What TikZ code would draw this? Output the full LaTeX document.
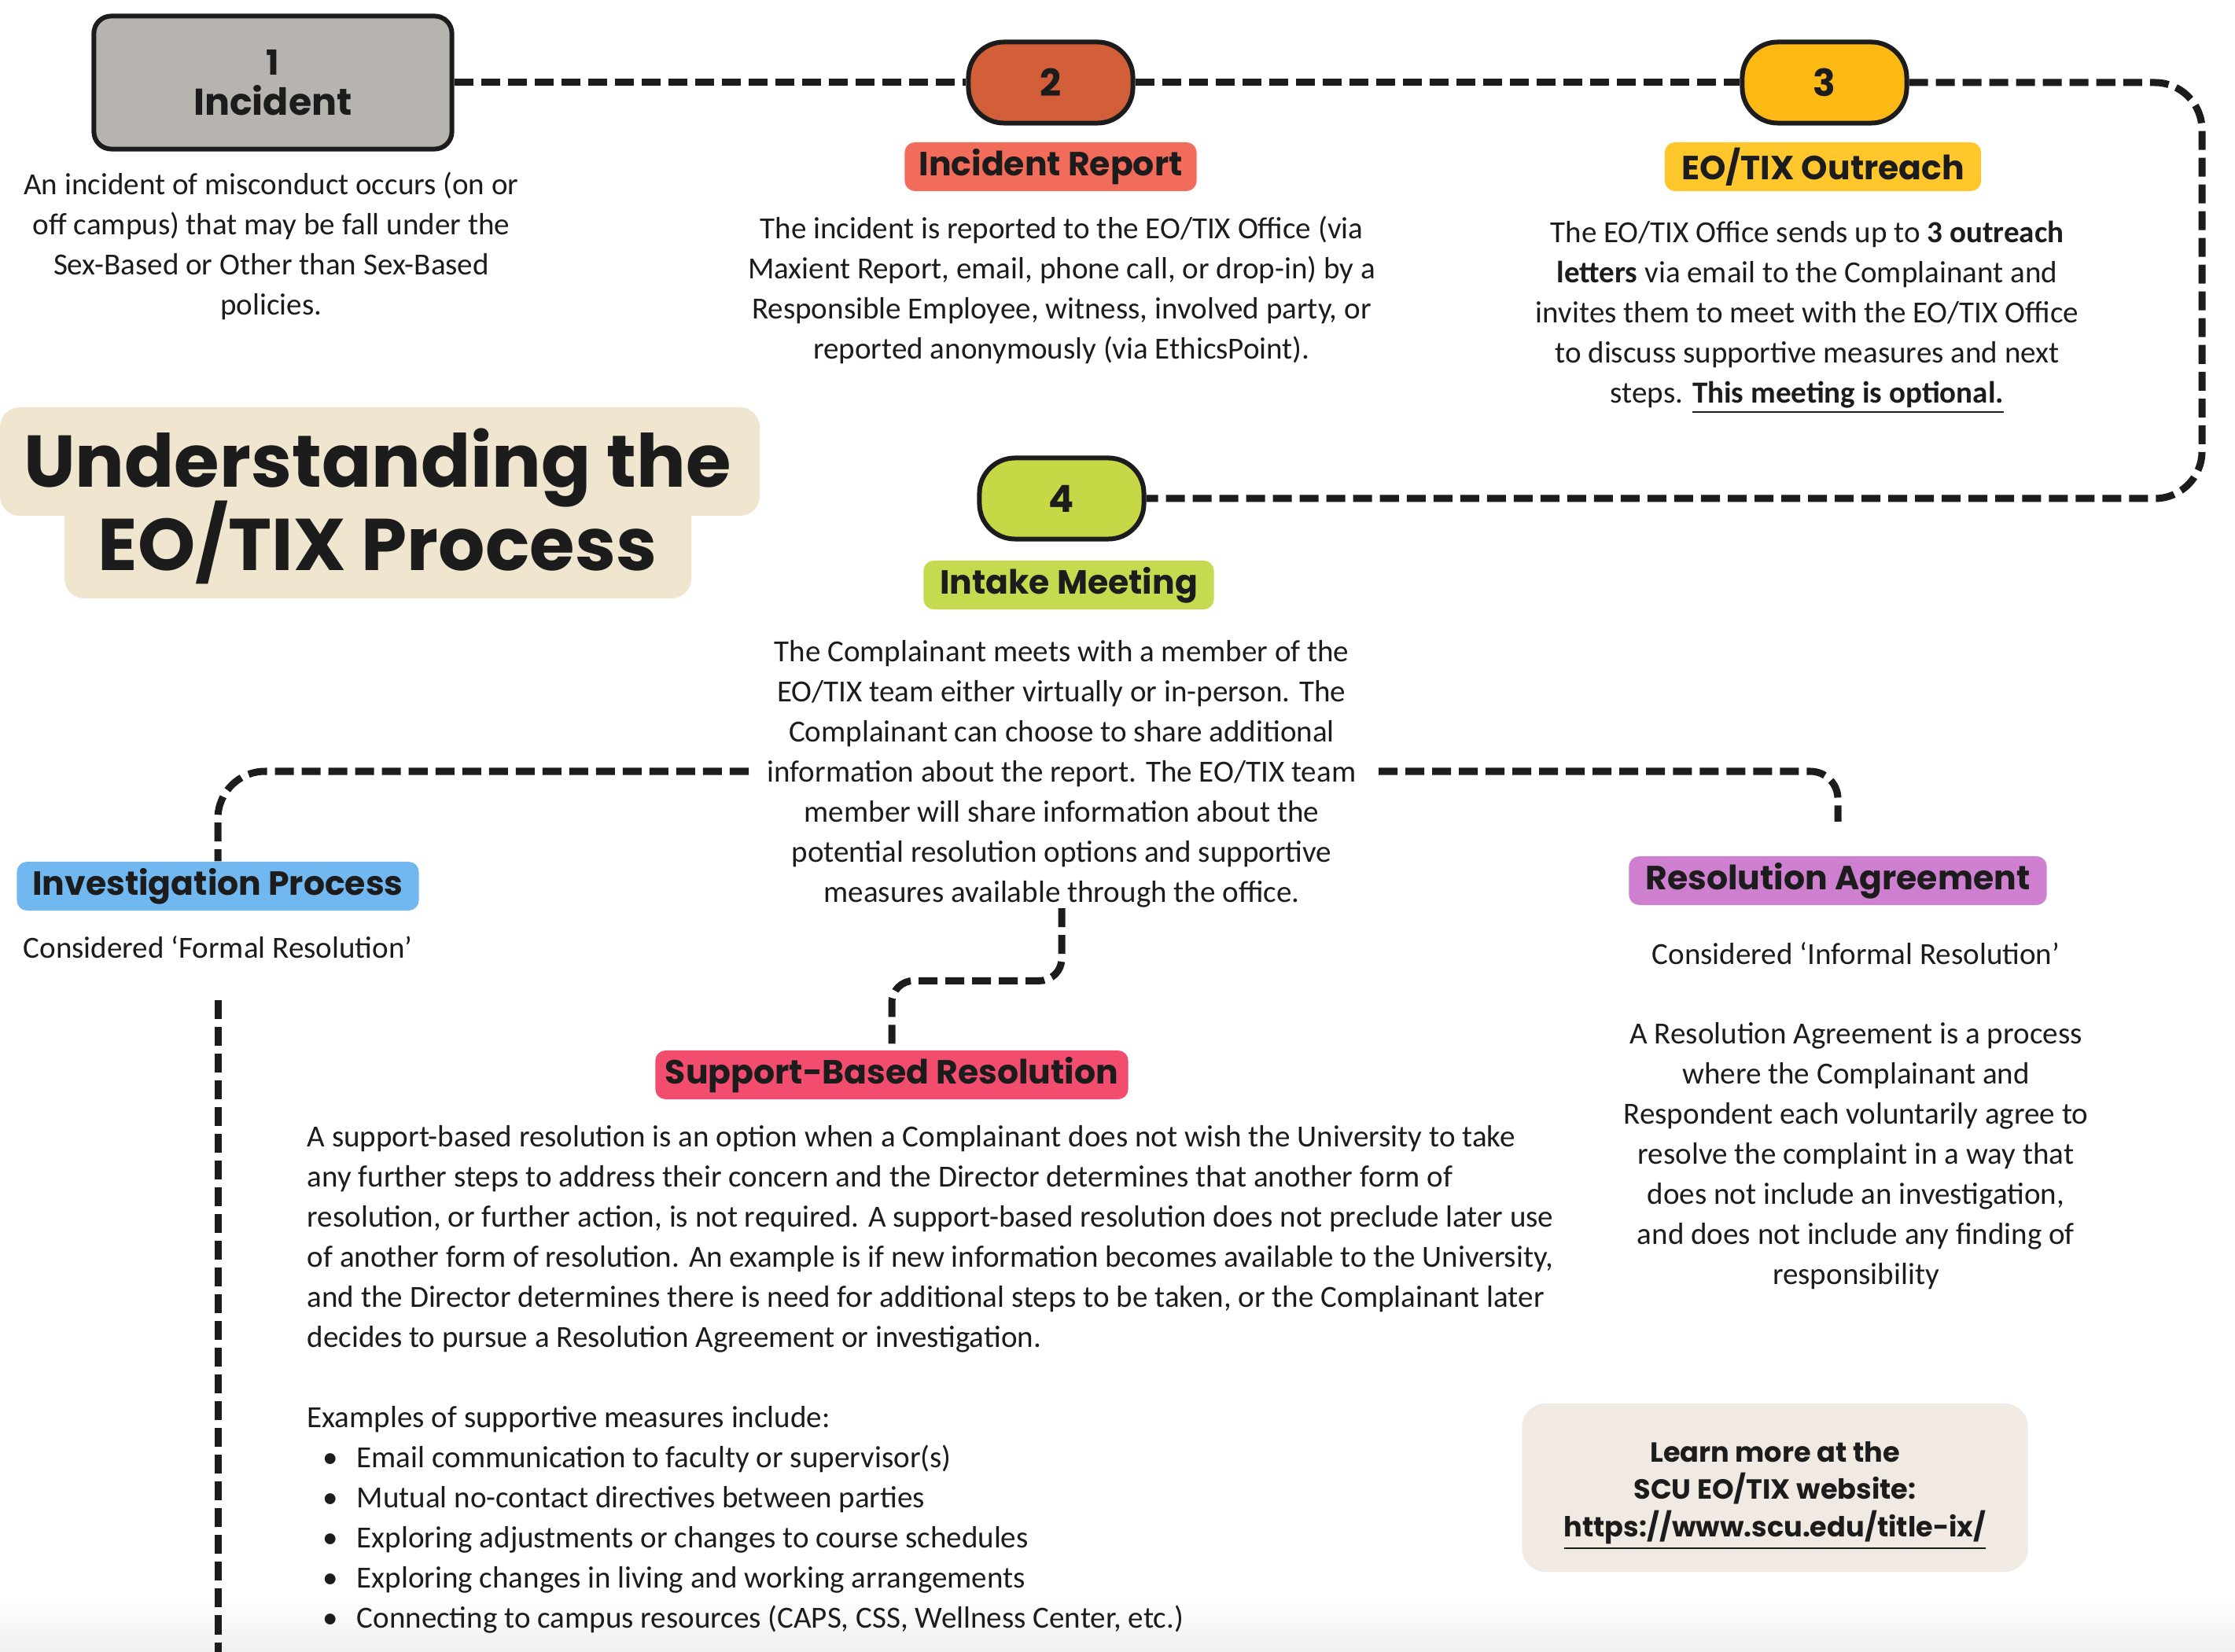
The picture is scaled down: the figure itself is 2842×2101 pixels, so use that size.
\documentclass[tikz,border=0pt]{standalone}
\usepackage{fontspec}
\setmainfont{Carlito}
\newfontfamily\hf{Poppins}
\usetikzlibrary{calc}
\newcommand\nolsk{\lineskiplimit=-100pt\relax}
\definecolor{ink}{HTML}{1C1C1C}
\definecolor{incgray}{RGB}{183,180,176}
\definecolor{c2}{RGB}{211,94,58}
\definecolor{c3}{RGB}{253,185,19}
\definecolor{c4}{RGB}{198,216,70}
\definecolor{lrep}{RGB}{242,108,92}
\definecolor{lout}{RGB}{255,199,44}
\definecolor{lint}{RGB}{197,218,79}
\definecolor{linv}{RGB}{114,184,240}
\definecolor{lra}{RGB}{207,127,207}
\definecolor{lsbr}{RGB}{242,77,110}
\definecolor{titlebg}{RGB}{240,230,208}
\definecolor{learnbg}{RGB}{241,234,227}
\begin{document}
\begin{tikzpicture}[x=0.01cm, y=-0.01cm,
  conn/.style={draw=ink, line width=0.09cm, dash pattern=on 0.24cm off 0.1cm},
  numbox/.style={draw=ink, line width=0.06cm, rounded corners=0.45cm, minimum width=2.09cm, minimum height=1.03cm, inner sep=0pt, font=\hf\bfseries\fontsize{13.5}{16}\selectfont, text=ink},
  lab/.style={rounded corners=0.13cm, minimum height=0.62cm, inner sep=0pt, font=\hf\bfseries\fontsize{12.1}{14}\selectfont, text=ink},
  body/.style={font=\fontsize{11.1}{14.5}\selectfont, align=center, anchor=north, inner sep=0pt, text=ink}]
\fill[white] (0,0) rectangle (2842,2101);
\useasboundingbox (0,0) rectangle (2842,2101);
\shade[top color=white, bottom color=black!6] (0,2030) rectangle (2842,2101);

% title
\fill[titlebg, rounded corners=0.25cm] (0,518) rectangle (966,656);
\fill[titlebg, rounded corners=0.25cm] (82,630) rectangle (879,761);
\node[font=\hf\bfseries\fontsize{26.5}{30}\selectfont\nolsk, align=center, text=ink, inner sep=0pt] (title) at (480,644) {Understanding the\\EO/TIX Process};

% step boxes
\node[draw=ink, line width=0.06cm, rounded corners=0.22cm, fill=incgray, minimum width=4.55cm, minimum height=1.69cm, align=center, text=ink, inner sep=0pt, font=\hf\bfseries\fontsize{13.5}{14.5}\selectfont\nolsk] (b1) at (347,105) {{\fontsize{12.5}{14.5}\selectfont 1}\\Incident};
\node[numbox, fill=c2] (b2) at (1336,105) {2};
\node[numbox, fill=c3] (b3) at (2320,105) {3};
\node[numbox, fill=c4] (b4) at (1350,634) {4};

% labels
\node[lab, fill=lrep, minimum width=3.71cm] (rep) at (1336,212) {Incident Report};
\node[lab, fill=lout, minimum width=4.02cm] (out) at (2318,212) {EO/TIX Outreach};
\node[lab, fill=lint, minimum width=3.69cm] (int) at (1359,744) {Intake Meeting};
\node[lab, fill=linv, minimum width=5.11cm] (inv) at (277,1127) {Investigation Process};
\node[lab, fill=lra, minimum width=5.31cm] (ra) at (2337,1120) {Resolution Agreement};
\node[lab, fill=lsbr, minimum width=6.01cm] (sbr) at (1134,1367) {Support-Based Resolution};

% texts
\node[body] (incd) at (345,211) {\strut An incident of misconduct occurs (on or\\off campus) that may be fall under the\\Sex-Based or Other than Sex-Based\\policies.};
\node[body] (repd) at (1350,267) {\strut The incident is reported to the EO/TIX Office (via\\Maxient Report, email, phone call, or drop-in) by a\\Responsible Employee, witness, involved party, or\\reported anonymously (via EthicsPoint).};
\node[body] (outd) at (2298,272) {\strut The EO/TIX Office sends up to \textbf{3 outreach}\\\textbf{letters} via email to the Complainant and\\invites them to meet with the EO/TIX Office\\to discuss supportive measures and next\\steps. \underline{\textbf{This meeting is optional.}}};
\node[body] (intd) at (1350,805) {\strut The Complainant meets with a member of the\\EO/TIX team either virtually or in-person. The\\Complainant can choose to share additional\\information about the report. The EO/TIX team\\member will share information about the\\potential resolution options and supportive\\measures available through the office.};
\node[body] (formal) at (277,1182) {\strut Considered `Formal Resolution'};
\node[body] (informal) at (2360,1190) {\strut Considered `Informal Resolution'};
\node[body] (rad) at (2360,1291) {\strut A Resolution Agreement is a process\\where the Complainant and\\Respondent each voluntarily agree to\\resolve the complaint in a way that\\does not include an investigation,\\and does not include any finding of\\responsibility};
\node[body, align=left, anchor=north west] (sbd) at (390,1422) {\strut A support-based resolution is an option when a Complainant does not wish the University to take\\any further steps to address their concern and the Director determines that another form of\\resolution, or further action, is not required. A support-based resolution does not preclude later use\\of another form of resolution. An example is if new information becomes available to the University,\\and the Director determines there is need for additional steps to be taken, or the Complainant later\\decides to pursue a Resolution Agreement or investigation.\\[14.5pt]Examples of supportive measures include:\\\makebox[17.9pt][l]{\hspace{5.5pt}\textbullet}Email communication to faculty or supervisor(s)\\\makebox[17.9pt][l]{\hspace{5.5pt}\textbullet}Mutual no-contact directives between parties\\\makebox[17.9pt][l]{\hspace{5.5pt}\textbullet}Exploring adjustments or changes to course schedules\\\makebox[17.9pt][l]{\hspace{5.5pt}\textbullet}Exploring changes in living and working arrangements\\\makebox[17.9pt][l]{\hspace{5.5pt}\textbullet}Connecting to campus resources (CAPS, CSS, Wellness Center, etc.)};

\node[fill=learnbg, rounded corners=0.3cm, minimum width=6.43cm, minimum height=2.14cm, inner sep=0pt] (learn) at (2257,1892) {};
\node[inner sep=0pt, font=\hf\bfseries\fontsize{10}{13.6}\selectfont, align=center, text=ink] (learntxt) at (2257,1902) {Learn more at the\\SCU EO/TIX website:\\\underline{https://www.scu.edu/title-ix/}};

% connectors
\coordinate (rc) at (2800,400);
\coordinate (il) at (952,981);
\coordinate (ir) at (1753,981);
\coordinate (rae) at (2337,1045);
\coordinate (st) at (1350,1155);
\coordinate (iv1) at (277,1272);
\coordinate (iv2) at (277,2110);
\draw[conn] (b1.east) -- (b2.west);
\draw[conn] (b2.east) -- (b3.west);
\draw[conn, rounded corners=0.6cm] (b3.east) -| (rc) |- (b4.east);
\draw[conn, rounded corners=0.6cm] (il) -| (inv.north);
\draw[conn, rounded corners=0.35cm] (ir) -| (rae);
\draw[conn, rounded corners=0.28cm] (st) |- ($(sbr.north)+(0,-88)$) -- (sbr.north);
\draw[conn] (iv1) -- (iv2);
\end{tikzpicture}
\end{document}
